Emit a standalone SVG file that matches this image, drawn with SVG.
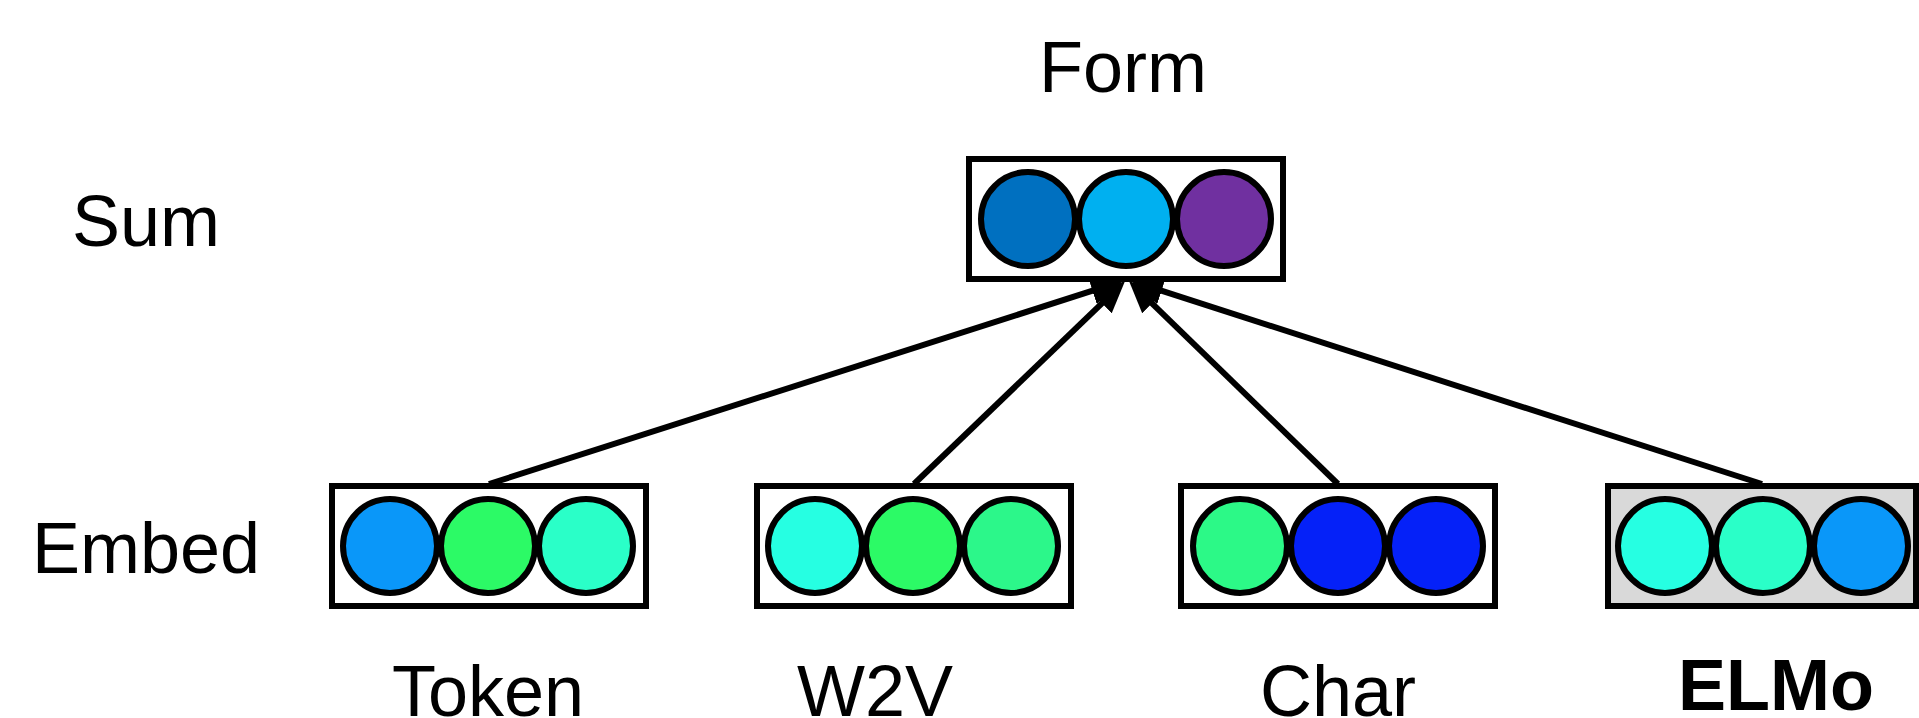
<svg xmlns="http://www.w3.org/2000/svg" width="1919" height="718" viewBox="0 0 1919 718">
  <style>
    .lbl { font-family: "Liberation Sans", Arial, sans-serif; font-size: 72px; fill: #000; }
    .bold { font-weight: bold; }
    .box { fill: #fff; stroke: #000; stroke-width: 6; }
    .box.shade { fill: #d9d9d9; }
    .dot { stroke: #000; stroke-width: 6; }
    .edge { fill: none; stroke: #000; stroke-width: 6; marker-end: url(#head); }
  </style>
  <defs>
    <marker id="head" viewBox="0 0 32 28" refX="10" refY="14" markerWidth="32" markerHeight="28" markerUnits="userSpaceOnUse" orient="auto">
      <path d="M0,0 L32,14 L0,28 z" fill="#000"/>
    </marker>
  </defs>

  <rect width="1919" height="718" fill="#fff"/>

  <!-- row labels -->
  <text class="lbl" x="146" y="246" text-anchor="middle">Sum</text>
  <text class="lbl" x="146" y="573" text-anchor="middle">Embed</text>

  <!-- connectors: each embedding feeds the summed form -->
  <g id="connectors">
    <line class="edge" x1="489" y1="484" x2="1102" y2="287.7"/>
    <line class="edge" x1="914" y1="484" x2="1109.2" y2="296.3"/>
    <line class="edge" x1="1338" y1="484" x2="1144.8" y2="296.3"/>
    <line class="edge" x1="1762" y1="484" x2="1152" y2="287.7"/>
  </g>

  <!-- summed representation -->
  <g id="form">
    <text class="lbl" x="1123" y="92" text-anchor="middle">Form</text>
    <rect class="box" x="969" y="159" width="314" height="120"/>
    <circle class="dot" cx="1028" cy="219" r="47" fill="#0070c0"/>
    <circle class="dot" cx="1126" cy="219" r="47" fill="#00b0f0"/>
    <circle class="dot" cx="1224" cy="219" r="47" fill="#7030a0"/>
  </g>

  <!-- embeddings -->
  <g id="token">
    <rect class="box" x="332" y="486" width="314" height="120"/>
    <circle class="dot" cx="390" cy="546" r="47" fill="#0a97f9"/>
    <circle class="dot" cx="488" cy="546" r="47" fill="#2cfa66"/>
    <circle class="dot" cx="586" cy="546" r="47" fill="#2affc8"/>
    <text class="lbl" x="488" y="716" text-anchor="middle">Token</text>
  </g>

  <g id="w2v">
    <rect class="box" x="757" y="486" width="314" height="120"/>
    <circle class="dot" cx="815" cy="546" r="47" fill="#26ffe2"/>
    <circle class="dot" cx="913" cy="546" r="47" fill="#2cfa66"/>
    <circle class="dot" cx="1011" cy="546" r="47" fill="#2cf78a"/>
    <text class="lbl" x="875" y="716" text-anchor="middle">W2V</text>
  </g>

  <g id="char">
    <rect class="box" x="1181" y="486" width="314" height="120"/>
    <circle class="dot" cx="1240" cy="546" r="47" fill="#2cf987"/>
    <circle class="dot" cx="1338" cy="546" r="47" fill="#0521f8"/>
    <circle class="dot" cx="1436" cy="546" r="47" fill="#0521f8"/>
    <text class="lbl" x="1338" y="716" text-anchor="middle">Char</text>
  </g>

  <g id="elmo">
    <rect class="box shade" x="1608" y="486" width="308" height="120"/>
    <circle class="dot" cx="1665" cy="546" r="47" fill="#26ffe2"/>
    <circle class="dot" cx="1763" cy="546" r="47" fill="#2affc8"/>
    <circle class="dot" cx="1861" cy="546" r="47" fill="#0a97f9"/>
    <text class="lbl bold" x="1776" y="710" text-anchor="middle">ELMo</text>
  </g>
</svg>
